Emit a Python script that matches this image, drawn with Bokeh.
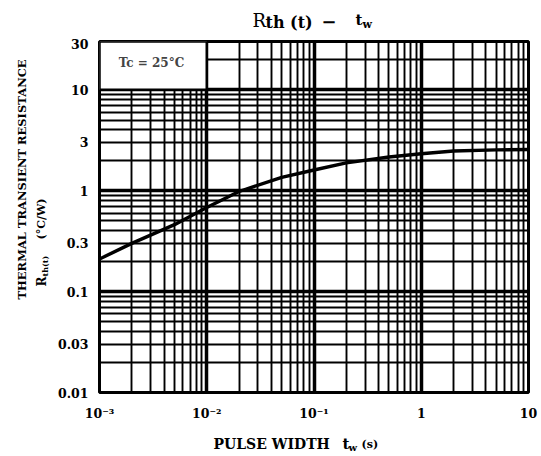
import math
from bokeh.plotting import figure
from bokeh.models import FixedTicker, Grid, Label
from bokeh.layouts import column, row
from bokeh.embed import file_html
from bokeh.resources import INLINE

# ---- data ----
pulse_width = [0.001, 0.002, 0.005, 0.01, 0.02, 0.05, 0.1, 0.2, 0.5, 1, 2, 5, 10]
rth = [0.21, 0.30, 0.46, 0.68, 0.98, 1.35, 1.60, 1.88, 2.15, 2.32, 2.47, 2.53, 2.55]

x_ticks = [0.001, 0.01, 0.1, 1, 10]
x_tick_labels = ["10\u207b\u00b3", "10\u207b\u00b2", "10\u207b\u00b9", "1", "10"]
y_ticks = [0.01, 0.03, 0.1, 0.3, 1, 3, 10, 30]
y_tick_labels = ["0.01", "0.03", "0.1", "0.3", "1", "3", "10", "30"]

x_decades = [0.001, 0.01, 0.1, 1, 10]
y_decades = [0.01, 0.1, 1, 10]
x_minor = [k * d for d in [0.001, 0.01, 0.1, 1] for k in range(2, 10)]
y_minor = [k * d for d in [0.01, 0.1, 1] for k in range(2, 10)] + [20]

FONT = "DejaVu Serif"

TITLE_H = 38
MAIN_H = 3 + 352 + 30
XLAB_H = 32
YLAB_W = 55
MAIN_W = 43 + 430 + 10
FRAME_BOTTOM = TITLE_H + 3 + 352   # page y of the chart frame's bottom

# ---------------- main chart ----------------
p = figure(width=MAIN_W, height=MAIN_H, x_axis_type="log", y_axis_type="log",
           x_range=(0.001, 10), y_range=(0.01, 30),
           output_backend="svg", toolbar_location=None,
           min_border_left=43, min_border_right=10, min_border_top=3, min_border_bottom=30)

p.xgrid.visible = False
p.ygrid.visible = False
p.add_layout(Grid(dimension=0, ticker=FixedTicker(ticks=x_minor), grid_line_color="black", grid_line_width=1.9))
p.add_layout(Grid(dimension=1, ticker=FixedTicker(ticks=y_minor), grid_line_color="black", grid_line_width=1.9))
p.add_layout(Grid(dimension=0, ticker=FixedTicker(ticks=x_decades), grid_line_color="black", grid_line_width=3.5))
p.add_layout(Grid(dimension=1, ticker=FixedTicker(ticks=y_decades), grid_line_color="black", grid_line_width=3.5))

p.outline_line_color = "black"
p.outline_line_width = 3

for ax, ticks, labels in [(p.xaxis[0], x_ticks, x_tick_labels), (p.yaxis[0], y_ticks, y_tick_labels)]:
    ax.ticker = FixedTicker(ticks=ticks, minor_ticks=[])
    ax.major_label_overrides = {t: l for t, l in zip(ticks, labels)}
    ax.major_tick_line_color = None
    ax.minor_tick_line_color = None
    ax.axis_line_color = None
    ax.major_label_text_font = FONT
    ax.major_label_text_font_style = "bold"
    ax.major_label_text_font_size = "12.5px"
    ax.major_label_text_color = "black"
p.xaxis.major_label_standoff = 7
p.yaxis.major_label_standoff = 5

# condition box
p.quad(left=[0.001], right=[0.01], bottom=[10], top=[30], fill_color="white",
       line_color="black", line_width=2.5)
p.add_layout(Label(x=0.00305, y=18.4, text="Tc = 25\u00b0C", text_align="center",
                   text_baseline="middle", text_font=FONT, text_font_style="bold",
                   text_font_size="12px"))

p.line(pulse_width, rth, line_color="black", line_width=3.4)

# ---------------- text strips ----------------
def strip(w, h):
    f = figure(width=w, height=h, x_range=(0, 1), y_range=(0, 1),
               x_axis_location=None, y_axis_location=None,
               output_backend="svg", toolbar_location=None,
               min_border=0)
    f.outline_line_color = None
    f.xgrid.visible = False
    f.ygrid.visible = False
    return f

def lab(f, px, py, text, size, angle=0, align="left", style="bold"):
    f.add_layout(Label(x=px, y=py, x_units="screen", y_units="screen", text=text,
                       angle=angle, text_align=align, text_baseline="middle",
                       text_font=FONT, text_font_style=style, text_font_size=size,
                       text_color="black"))

# title strip: page y 0..TITLE_H
t = strip(YLAB_W + MAIN_W, TITLE_H)
def tl(px, py, *a, **k): lab(t, px, TITLE_H - py, *a, **k)
tl(252, 19.5, "R", "18px", style="normal")
tl(265, 22, "th (t)", "16px")
tl(321, 20, "\u2212", "18px")
tl(355, 19.5, "t", "15px")
tl(362, 23.5, "w", "11px")

# y-label strip (its frame is aligned with the chart frame)
yl = strip(YLAB_W, MAIN_H)
def yll(px, py, *a, **k): lab(yl, px, FRAME_BOTTOM - py, *a, **k)
A = math.pi / 2
yll(21, 180, "THERMAL TRANSIENT RESISTANCE", "11.5px", angle=A, align="center")
yll(41.5, 287, "R", "12px", angle=A)
yll(44.5, 277, "th(t)", "8px", angle=A)
yll(40.5, 240, "(\u00b0C/W)", "11px", angle=A)

# x-label strip
xl = strip(YLAB_W + MAIN_W, XLAB_H)
XB = TITLE_H + MAIN_H + XLAB_H
def xll(px, py, *a, **k): lab(xl, px, XB - py, *a, **k)
xll(213, 443.5, "PULSE WIDTH", "14px")
xll(342, 443, "t", "15px")
xll(348, 446.5, "w", "10px")
xll(361, 444, "(s)", "11px")

layout = column(t, row(yl, p), xl)
open("out.html", "w").write(file_html(layout, INLINE))
